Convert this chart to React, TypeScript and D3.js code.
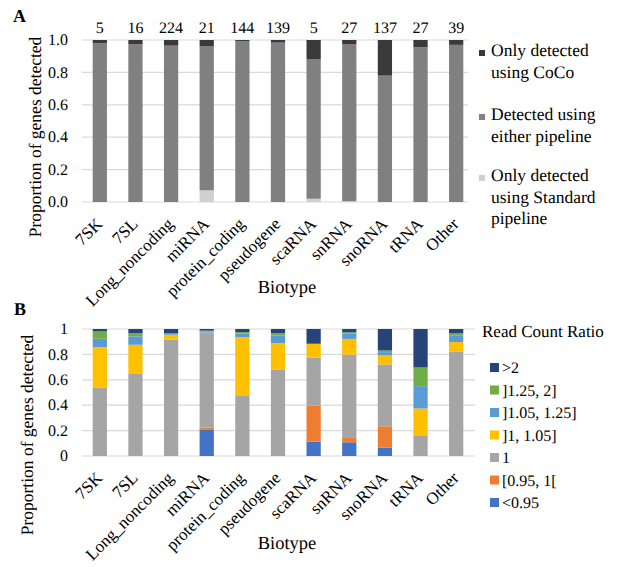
import * as d3 from "d3";

// Biotypes shared by both panels
const categories = ["7SK", "7SL", "Long_noncoding", "miRNA", "protein_coding", "pseudogene", "scaRNA", "snRNA", "snoRNA", "tRNA", "Other"];
const geneCounts = [5, 16, 224, 21, 144, 139, 5, 27, 137, 27, 39];

// Panel A (bottom to top)
const onlyStandard = [0, 0, 0, 0.072, 0, 0, 0.02, 0.005, 0, 0, 0];
const eitherPipeline = [0.98, 0.975, 0.965, 0.888, 0.994, 0.984, 0.86, 0.97, 0.78, 0.955, 0.97];
const onlyCoCo = [0.02, 0.025, 0.035, 0.04, 0.006, 0.016, 0.12, 0.025, 0.22, 0.045, 0.03];

// Panel B (bottom to top)
const lt095 = [0, 0, 0, 0.21, 0, 0, 0.113, 0.108, 0.066, 0, 0];
const r095to1 = [0, 0, 0, 0.015, 0, 0, 0.284, 0.04, 0.168, 0, 0];
const eq1 = [0.54, 0.646, 0.915, 0.749, 0.472, 0.678, 0.376, 0.65, 0.487, 0.158, 0.823];
const r1to105 = [0.317, 0.23, 0.035, 0, 0.464, 0.211, 0.111, 0.124, 0.071, 0.216, 0.074];
const r105to125 = [0.066, 0.066, 0.008, 0.008, 0.029, 0.058, 0, 0.042, 0.026, 0.176, 0.05];
const r125to2 = [0.058, 0.026, 0.01, 0.005, 0.011, 0.021, 0, 0.01, 0.013, 0.147, 0.021];
const gt2 = [0.019, 0.032, 0.032, 0.013, 0.024, 0.032, 0.116, 0.026, 0.169, 0.303, 0.032];

const yTicksA = [0, 0.2, 0.4, 0.6, 0.8, 1.0];
const yTicksB = [0, 0.2, 0.4, 0.6, 0.8, 1];

const seriesA = [
  { key: "std", label: ["Only detected", "using Standard", "pipeline"], color: "#d0d0d0", values: onlyStandard },
  { key: "either", label: ["Detected using", "either pipeline"], color: "#808080", values: eitherPipeline },
  { key: "coco", label: ["Only detected", "using CoCo"], color: "#3a3a3a", values: onlyCoCo },
];

const seriesB = [
  { key: "lt095", label: "<0.95", color: "#4472C4", values: lt095 },
  { key: "r095", label: "[0.95, 1[", color: "#ED7D31", values: r095to1 },
  { key: "eq1", label: "1", color: "#A5A5A5", values: eq1 },
  { key: "r1", label: "]1, 1.05]", color: "#FFC000", values: r1to105 },
  { key: "r105", label: "]1.05, 1.25]", color: "#5B9BD5", values: r105to125 },
  { key: "r125", label: "]1.25, 2]", color: "#70AD47", values: r125to2 },
  { key: "gt2", label: ">2", color: "#264478", values: gt2 },
];

function stackOf(series: { key: string; values: number[] }[]) {
  const rows = categories.map((c, i) => {
    const r: any = { cat: c };
    series.forEach((s) => (r[s.key] = s.values[i]));
    return r;
  });
  return d3.stack().keys(series.map((s) => s.key))(rows);
}

export default function App() {
  const width = 618;
  const height = 567;
  const left = 82;

  const x = d3.scaleBand().domain(categories).range([left, 474]).paddingInner(0.6).paddingOuter(0.3);

  const yA = d3.scaleLinear().domain([0, 1]).range([202, 40]);
  const yB = d3.scaleLinear().domain([0, 1]).range([456, 329]);

  const stackA = stackOf(seriesA);
  const stackB = stackOf(seriesB);

  // rotated category labels, text end sits just under the bar
  const catLabels = (axisY: number) =>
    categories.map((c) => {
      const cx = x(c)! + x.bandwidth() / 2 + 3.5;
      const cy = axisY + 23;
      return (
        <text key={c} transform={`translate(${cx},${cy}) rotate(-45)`} textAnchor="end" fontSize={17}>
          {c}
        </text>
      );
    });

  return (
    <svg width={width} height={height} style={{ position: "absolute", left: 0, top: 0, background: "#fff" }} textRendering="geometricPrecision">
      <style>{`text { font-family: "Liberation Serif", "Times New Roman", serif; fill: #000; }`}</style>
      {/* Panel A */}
      <text x={13} y={22} fontSize={18} fontWeight="bold">A</text>
      {yTicksA.map((t) => (
        <g key={t}>
          <line x1={left} x2={468} y1={yA(t)} y2={yA(t)} stroke="#d9d9d9" strokeWidth={1.2} />
          <text x={68} y={yA(t)} dy="0.33em" textAnchor="end" fontSize={16}>{t.toFixed(1)}</text>
        </g>
      ))}
      {stackA.map((layer, li) => (
        <g key={layer.key} fill={seriesA[li].color}>
          {layer.map((d, i) => (
            <rect key={i} x={x(categories[i])} width={x.bandwidth()} y={yA(d[1])} height={Math.max(0, yA(d[0]) - yA(d[1]))} />
          ))}
        </g>
      ))}
      {geneCounts.map((n, i) => (
        <text key={i} x={x(categories[i])! + x.bandwidth() / 2} y={33} textAnchor="middle" fontSize={16}>{n}</text>
      ))}
      {catLabels(202)}
      <text x={287} y={293} textAnchor="middle" fontSize={18.5}>Biotype</text>
      <text transform={`translate(41,137) rotate(-90)`} textAnchor="middle" fontSize={17.5}>Proportion of genes detected</text>
      {[...seriesA].reverse().map((s, i) => {
        const base = [56, 120, 181][i];
        return (
          <g key={s.key}>
            <rect x={479} y={base - 6} width={6} height={6} fill={s.color} />
            {s.label.map((l, j) => (
              <text key={j} x={491} y={base + j * 21.5} fontSize={17.5}>{l}</text>
            ))}
          </g>
        );
      })}

      {/* Panel B */}
      <text x={14} y={315} fontSize={18} fontWeight="bold">B</text>
      {yTicksB.map((t) => (
        <g key={t}>
          <line x1={left} x2={475} y1={yB(t)} y2={yB(t)} stroke="#d9d9d9" strokeWidth={1.2} />
          <text x={68} y={yB(t)} dy="0.33em" textAnchor="end" fontSize={16}>{String(t)}</text>
        </g>
      ))}
      {stackB.map((layer, li) => (
        <g key={layer.key} fill={seriesB[li].color}>
          {layer.map((d, i) => (
            <rect key={i} x={x(categories[i])} width={x.bandwidth()} y={yB(d[1])} height={Math.max(0, yB(d[0]) - yB(d[1]))} />
          ))}
        </g>
      ))}
      {catLabels(456)}
      <text x={287} y={549} textAnchor="middle" fontSize={18.5}>Biotype</text>
      <text transform={`translate(33,435) rotate(-90)`} textAnchor="middle" fontSize={17.5}>Proportion of genes detected</text>
      <text x={482} y={337} fontSize={17}>Read Count Ratio</text>
      {[...seriesB].reverse().map((s, i) => {
        const base = 373 + i * 22.5;
        return (
          <g key={s.key}>
            <rect x={490} y={base - 10} width={9} height={9} fill={s.color} />
            <text x={502} y={base} fontSize={16}>{s.label}</text>
          </g>
        );
      })}
    </svg>
  );
}
